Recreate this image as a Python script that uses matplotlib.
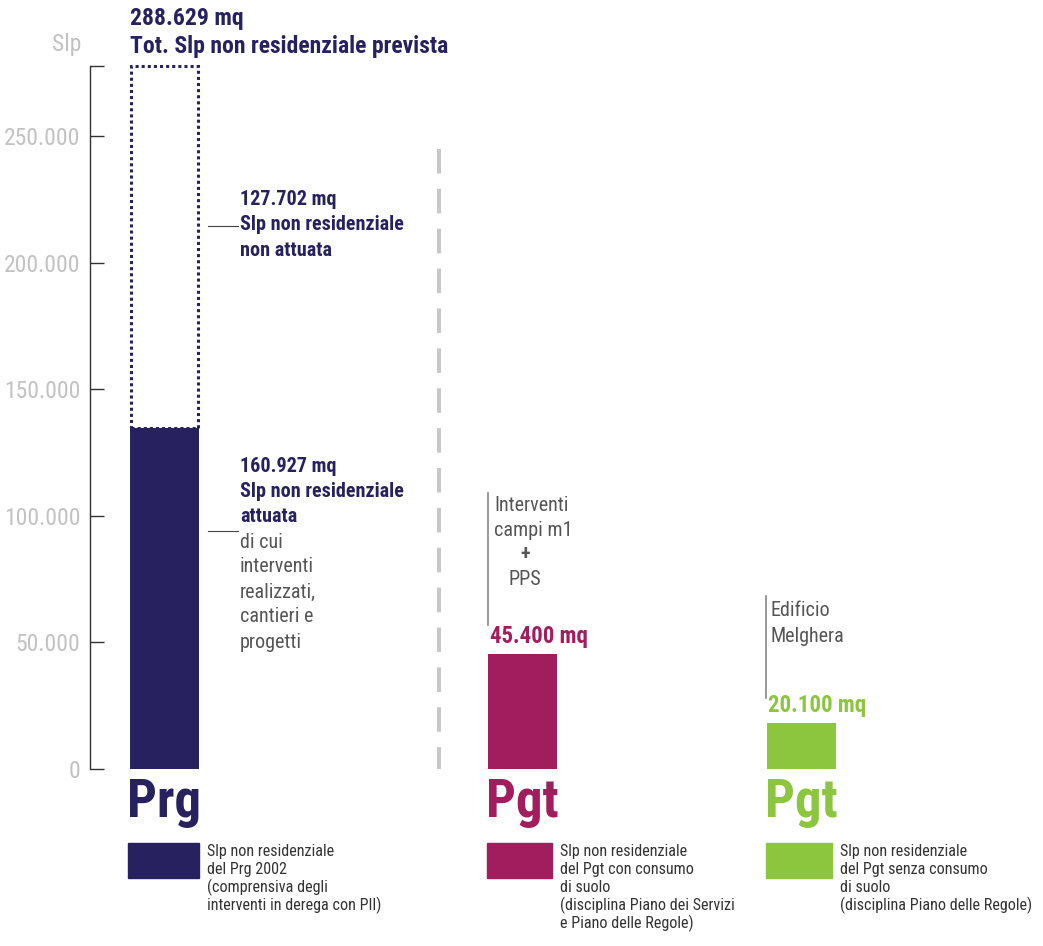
import matplotlib
matplotlib.use("Agg")
import matplotlib.pyplot as plt
from matplotlib import font_manager
from matplotlib.patches import Rectangle

W, H = 1043, 946
DPI = 100

def _w(v):
    try:
        return int(v)
    except Exception:
        return {"normal": 400, "regular": 400, "bold": 700}.get(str(v).lower(), 400)

_faces = {}
for f in font_manager.fontManager.ttflist:
    _faces.setdefault(f.name, set()).add(_w(f.weight))
_cands = ["Roboto Condensed", "PT Sans Narrow", "Archivo Narrow", "IBM Plex Sans Condensed",
          "Fira Sans Condensed", "Asap Condensed", "Liberation Sans"]
FONT = next((n for n in _cands if n in _faces and any(w >= 700 for w in _faces[n])
             and any(w in (400,) for w in _faces[n])), "Liberation Sans")
plt.rcParams["font.family"] = [FONT, "DejaVu Sans"]

# ---------------- data ----------------
plans = ["Prg", "Pgt", "Pgt"]
bar_heights = [134700, 45400, 18100]          # drawn heights
prg_total_height = 277600                       # top of dotted (non attuata) box
value_labels = ["160.927 mq", "45.400 mq", "20.100 mq"]
total_label = "288.629 mq"
non_attuata_label = "127.702 mq"
yticks = [0, 50000, 100000, 150000, 200000, 250000]
ytick_labels = ["0", "50.000", "100.000", "150.000", "200.000", "250.000"]
legend_texts = [
    ["Slp non residenziale", "del Prg 2002", "(comprensiva degli", "interventi in derega con PII)"],
    ["Slp non residenziale", "del Pgt con consumo", "di suolo", "(disciplina Piano dei Servizi", "e Piano delle Regole)"],
    ["Slp non residenziale", "del Pgt senza consumo", "di suolo", "(disciplina Piano delle Regole)"],
]

NAVY = "#27215f"
MAGENTA = "#a21d5d"
GREEN = "#8cc63f"
colors = [NAVY, MAGENTA, GREEN]
GRAYTXT = "#555555"
TICKGRAY = "#c2c2c2"

# ---------------- layout ----------------
y0_px, y250_px = 769, 136
ppu = (y0_px - y250_px) / 250000.0
ymax = y0_px / ppu
ymin = -(H - y0_px) / ppu

fig = plt.figure(figsize=(W / DPI, H / DPI), dpi=DPI)
ax = fig.add_axes([0, 0, 1, 1])
ax.set_xlim(0, W)
ax.set_ylim(ymin, ymax)

def P(x, y):
    return (x / W, 1 - y / H)

def ftext(x, y, s, **kw):
    kw.setdefault("va", "center")
    kw.setdefault("ha", "left")
    fig.text(*P(x, y), s, **kw)

TS = 17.0    # tick label size
TT = 17.0    # title size
VS = 16.5    # bar value size
BS = 14.5    # bold annotation size
GS = 14.5    # gray annotation size
LS = 11.6    # legend text size
BIG = 38

# axis
for s in ["top", "right", "bottom"]:
    ax.spines[s].set_visible(False)
ax.spines["left"].set_position(("data", 90))
ax.spines["left"].set_bounds(0, prg_total_height)
ax.spines["left"].set_color("#333333")
ax.spines["left"].set_linewidth(1.0)
ax.set_yticks(yticks + [prg_total_height])
ax.set_yticklabels(ytick_labels + [""])
ax.tick_params(axis="y", direction="in", length=10, width=1.0, color="#333333",
               labelcolor=TICKGRAY, labelsize=TS, pad=7)
ax.set_xticks([])
ftext(81, 45, "Slp", ha="right", color=TICKGRAY, fontsize=TS)

# bars
bar_x = [164.5, 522, 801]
bar_w = 69
ax.bar(bar_x, bar_heights, width=bar_w, color=colors, zorder=2)
# dotted non-attuata box
ax.add_patch(Rectangle((bar_x[0] - bar_w / 2 + 1, bar_heights[0]), bar_w - 2,
                       prg_total_height - bar_heights[0], fill=False,
                       edgecolor=NAVY, linewidth=2.2, linestyle=(0, (1, 1)), zorder=3))

# dashed separator (drawn top to bottom)
ax.plot([439, 439], [(y0_px - 149) / ppu, 0], color="#c8c8c8", linewidth=2.9,
        dashes=(6.1, 3.8), solid_capstyle="butt", dash_capstyle="butt")

# top labels
ftext(130, 18, total_label, color=NAVY, fontsize=TT, weight="bold")
ftext(130, 47, "Tot. Slp non residenziale prevista", color=NAVY, fontsize=TT, weight="bold")

# non attuata
fig.add_artist(plt.Line2D([208 / W, 238 / W], [1 - 226 / H] * 2, color="#444444", lw=0.8))
ftext(240, 199, non_attuata_label, color=NAVY, fontsize=BS, weight="bold")
ftext(240, 225, "Slp non residenziale", color=NAVY, fontsize=BS, weight="bold")
ftext(240, 250, "non attuata", color=NAVY, fontsize=BS, weight="bold")

# attuata
fig.add_artist(plt.Line2D([208 / W, 238 / W], [1 - 531 / H] * 2, color="#444444", lw=0.8))
ftext(240, 466, value_labels[0], color=NAVY, fontsize=BS, weight="bold")
ftext(240, 491, "Slp non residenziale", color=NAVY, fontsize=BS, weight="bold")
ftext(240, 516, "attuata", color=NAVY, fontsize=BS, weight="bold")
for i, s in enumerate(["di cui", "interventi", "realizzati,", "cantieri e", "progetti"]):
    ftext(240, 542 + 25 * i, s, color=GRAYTXT, fontsize=GS)

# magenta annotation
fig.add_artist(plt.Line2D([488 / W] * 2, [1 - 493 / H, 1 - 625 / H], color="#888888", lw=1.2))
ftext(494, 505, "Interventi", color=GRAYTXT, fontsize=GS)
ftext(494, 530, "campi m1", color=GRAYTXT, fontsize=GS)
ftext(525, 553, "+", ha="center", color=GRAYTXT, fontsize=GS, weight="bold")
ftext(525, 579, "PPS", ha="center", color=GRAYTXT, fontsize=GS)
ftext(490, 636, value_labels[1], color=MAGENTA, fontsize=VS, weight="bold")

# green annotation
fig.add_artist(plt.Line2D([766 / W] * 2, [1 - 596 / H, 1 - 698 / H], color="#888888", lw=1.2))
ftext(771, 610, "Edificio", color=GRAYTXT, fontsize=GS)
ftext(771, 636, "Melghera", color=GRAYTXT, fontsize=GS)
ftext(768, 705, value_labels[2], color=GREEN, fontsize=VS, weight="bold")

# big plan labels
for xl, name, c in zip([127, 486, 765], plans, colors):
    ftext(xl, 803, name, color=c, fontsize=BIG, weight="bold")

# legend
leg_x = [128, 487, 766]
leg_w = [71, 65, 66]
txt_x = [207, 560, 840]
for lx, lw, tx, c, lines in zip(leg_x, leg_w, txt_x, colors, legend_texts):
    fig.patches.append(Rectangle(P(lx, 878), lw / W, 35 / H, transform=fig.transFigure,
                                 color=c, figure=fig))
    for i, s in enumerate(lines):
        ftext(tx, 851 + 18 * i, s, color="#333333", fontsize=LS)

fig.savefig("out.png", dpi=DPI)
